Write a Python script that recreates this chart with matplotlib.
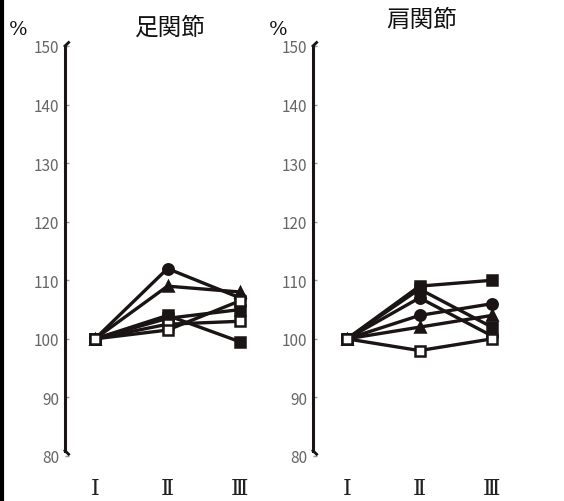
import matplotlib
matplotlib.use("Agg")
import matplotlib.pyplot as plt
from matplotlib.lines import Line2D

plt.rcParams['font.family'] = ['Noto Sans CJK JP', 'DejaVu Sans']

stages = [1, 2, 3]
stage_labels = ["Ⅰ", "Ⅱ", "Ⅲ"]
yticks = [80, 90, 100, 110, 120, 130, 140, 150]

# ankle joint (%), one list per subject
ankle_series = [
    [100, 112, 107],
    [100, 109, 108],
    [100, 104, 99.5],
    [100, 103.5, 105],
    [100, 102.5, 103],
    [100, 101.5, 106.5],
]
ankle_markers = ['o', '^', 's', 's', 's', 's']
ankle_filled = [True, True, True, True, False, False]

# shoulder joint (%)
shoulder_series = [
    [100, 109, 110],
    [100, 108.5, 102],
    [100, 107, 100.5],
    [100, 104, 106],
    [100, 102, 104],
    [100, 98, 100],
]
shoulder_markers = ['s', 's', 'o', 'o', '^', 's']
shoulder_filled = [True, True, True, True, True, False]

fig = plt.figure(figsize=(5.64, 5.02), dpi=100)
W, H = 564, 502
TOP, BOT = 47, 457


def panel(left_px, right_px, xlo, xhi, series, markers, filled, title, title_x, title_y, pct_x):
    ax = fig.add_axes([left_px / W, 1 - BOT / H, (right_px - left_px) / W, (BOT - TOP) / H])
    for vals, m, f in zip(series, markers, filled):
        ax.plot(stages, vals, color='#1a1414', lw=2.4, marker=m, ms=7.5,
                mfc='#1a1414' if f else 'white', mec='#1a1414', mew=1.8,
                clip_on=False, zorder=3)
    ax.set_xlim(xlo, xhi)
    ax.set_ylim(80, 150)
    for s in ['top', 'right', 'bottom']:
        ax.spines[s].set_visible(False)
    ax.spines['left'].set_linewidth(2.2)
    ax.spines['left'].set_color('#1a1414')
    ax.spines['left'].set_bounds(80.9, 150)
    ax.set_yticks(yticks)
    ax.tick_params(axis='y', direction='in', length=3, width=1, colors='#999999',
                   labelcolor='#666666', labelsize=11, pad=4)
    ax.set_xticks(stages)
    ax.set_xticklabels(stage_labels, fontsize=16, family=['DejaVu Serif'], color='#222222')
    ax.tick_params(axis='x', length=0, pad=15)
    # small hooks at both ends of the value axis
    ax.plot([xlo, xlo + 0.05], [150, 150.6], color='#1a1414', lw=2, clip_on=False)
    ax.plot([xlo, xlo + 0.05], [80.9, 80.3], color='#1a1414', lw=2, clip_on=False)
    fig.text(title_x / W, 1 - title_y / H, title, fontsize=17, ha='center', va='center',
             color='#111111')
    fig.text(pct_x / W, 1 - 30 / H, '%', fontsize=14, ha='left', va='center',
             family=['DejaVu Serif'], color='#111111')
    return ax


panel(65, 272, 1 - 30 / 72.5, 3 + 32 / 72.5, ankle_series, ankle_markers, ankle_filled,
      '足関節', 170, 28, 9)
panel(313, 522, 1 - 34 / 72.5, 3 + 30 / 72.5, shoulder_series, shoulder_markers, shoulder_filled,
      '肩関節', 422, 20, 269)

# frame line along the left edge
fig.add_artist(Line2D([1.5 / W, 1.5 / W], [0, 1], color='black', lw=3))

fig.savefig('out.png', dpi=100)
